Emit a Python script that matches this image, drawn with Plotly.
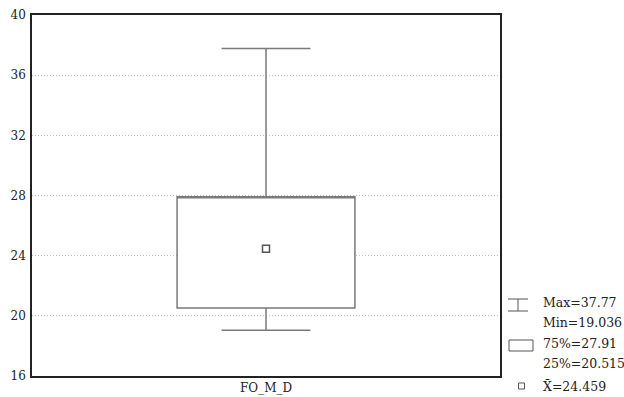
import plotly.graph_objects as go

category = ["FO_M_D"]
q1 = [20.515]
q3 = [27.91]
mins = [19.036]
maxs = [37.77]
means = [24.459]
y_ticks = [16, 20, 24, 28, 32, 36, 40]

W, H = 624, 397
L, R, T, B = 32, 124, 15, 21
pw, ph = W - L - R, H - T - B

def px(x):
    return (x - L) / pw

def py(y):
    return (H - B - y) / ph

FONT = "DejaVu Serif"
GRAY = "#7a7a7a"

fig = go.Figure()
fig.add_trace(go.Box(
    x=category, q1=q1, median=q3, q3=q3,
    lowerfence=mins, upperfence=maxs,
    width=0.38, whiskerwidth=0.5,
    fillcolor="white", line=dict(color=GRAY, width=1.5),
    boxpoints=False, showlegend=False, hoverinfo="skip",
))
fig.add_trace(go.Scatter(
    x=category, y=means, mode="markers",
    marker=dict(symbol="square-open", size=7, color="#555555", line=dict(width=1.5)),
    showlegend=False, hoverinfo="skip",
))

shapes = []
ann = []
lc = dict(color="#555555", width=1)
# whisker legend symbol
shapes.append(dict(type="line", xref="paper", yref="paper", x0=px(508), x1=px(528), y0=py(299), y1=py(299), line=lc))
shapes.append(dict(type="line", xref="paper", yref="paper", x0=px(508), x1=px(528), y0=py(311), y1=py(311), line=lc))
shapes.append(dict(type="line", xref="paper", yref="paper", x0=px(518), x1=px(518), y0=py(299), y1=py(311), line=lc))
# box legend symbol
shapes.append(dict(type="rect", xref="paper", yref="paper", x0=px(509), x1=px(533), y0=py(340), y1=py(351), line=lc))
# mean legend symbol
shapes.append(dict(type="rect", xref="paper", yref="paper", x0=px(518.5), x1=px(524.5), y0=py(383), y1=py(389), line=lc))

labels = [
    (f"Max={maxs[0]}", 302),
    (f"Min={mins[0]}", 322),
    (f"75%={q3[0]}", 343),
    (f"25%={q1[0]}", 363),
    (f"X\u0304={means[0]}", 386),
]
for txt, yc in labels:
    ann.append(dict(text=txt, xref="paper", yref="paper", x=px(541), y=py(yc),
                    xanchor="left", yanchor="middle", showarrow=False,
                    font=dict(family=FONT, size=12.5, color="#222222")))

fig.update_layout(
    width=W, height=H,
    margin=dict(l=L, r=R, t=T, b=B, pad=0),
    paper_bgcolor="white", plot_bgcolor="white",
    font=dict(family=FONT, size=12, color="#222222"),
    shapes=shapes, annotations=ann,
    xaxis=dict(range=[-0.5, 0.5], showgrid=False, showline=True, linecolor="#222222",
               linewidth=1.5, mirror=True, ticks="", tickfont=dict(size=12), automargin=False),
    yaxis=dict(range=[16, 40], tickvals=y_ticks, showgrid=True, gridcolor="#c4c4c4",
               griddash="1px,2px", gridwidth=1, showline=True, linecolor="#222222",
               linewidth=1.5, mirror=True, ticks="", zeroline=False, tickfont=dict(size=12),
               automargin=False, ticklabelstandoff=2),
)

fig.write_html("out.html")
